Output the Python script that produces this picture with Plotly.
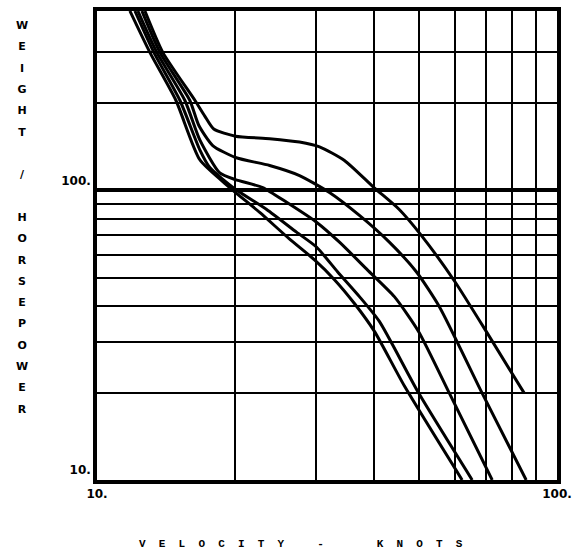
import plotly.graph_objects as go

# ---- data (velocity in knots, weight/horsepower) ----
c1_v = [12.71, 13.9, 16.32, 17.15, 17.94, 20.0, 23.73, 27.56, 30.46, 34.51, 40.0, 45.4, 50.7, 60.0, 71.2, 84.8]
c1_w = [417, 300, 205, 180.7, 163, 154, 151, 147, 141.5, 127, 102.4, 86, 70, 48.4, 31.4, 20]

c2_v = [12.52, 13.7, 15.91, 16.64, 17.85, 20.0, 23.73, 27.56, 32.02, 37.2, 43.2, 49.45, 55.5, 68.7, 85.7]
c2_w = [417, 300, 205, 168, 143, 130, 122, 112.6, 98.4, 82, 66.3, 52.4, 39.7, 20, 10]

c3_v = [12.27, 13.49, 15.52, 16.73, 18.49, 20.0, 22.92, 25.84, 30.0, 33.66, 38.71, 44.3, 50.0, 58.3, 72.3]
c3_w = [417, 300, 205, 149.5, 115, 109, 102.4, 91, 77.7, 66.3, 53.2, 43, 32.6, 20, 10]

c4_v = [12.09, 13.29, 15.14, 16.73, 17.59, 20.0, 23.38, 27.15, 30.0, 33.33, 37.2, 41.1, 50.0, 65.4]
c4_w = [417, 300, 205, 138.2, 120, 101, 86, 71.8, 63.8, 52.4, 43, 35.3, 20, 10]

c5_v = [11.79, 13.03, 14.84, 16.73, 19.43, 22.58, 26.23, 29.71, 32.83, 36.28, 40.1, 46.6, 62.2]
c5_w = [417, 300, 205, 127.7, 102.4, 84, 67.9, 57.6, 49.2, 40.7, 32.6, 21.1, 10]

x_major = [10, 100]
x_major_text = ["10.", "100."]
x_minor = [20, 30, 40, 50, 60, 70, 80, 90]
y_major = [10, 100]
y_major_text = ["10.", "100."]
y_minor = [20, 30, 40, 50, 60, 70, 80, 90, 200, 300]

x_title = "VELOCITY - KNOTS"
y_title_words = ["WEIGHT", "/", "HORSEPOWER"]

fig = go.Figure()
for v, w in [(c1_v, c1_w), (c2_v, c2_w), (c3_v, c3_w), (c4_v, c4_w), (c5_v, c5_w)]:
    fig.add_trace(go.Scatter(x=v, y=w, mode="lines", line=dict(color="black", width=3, shape="spline", smoothing=0.6),
                             showlegend=False, hoverinfo="skip"))

tick_font = dict(family="DejaVu Sans", size=12, color="black")

fig.update_xaxes(type="log", range=[1, 2], tickvals=x_major, ticktext=[f"<b>{t}</b>" for t in x_major_text],
                 showgrid=True, gridcolor="black", gridwidth=3,
                 minor=dict(tickvals=x_minor, showgrid=True, gridcolor="black", gridwidth=2.2, ticks=""),
                 showline=True, linecolor="black", linewidth=3.5, mirror=True, ticks="", zeroline=False,
                 tickfont=tick_font)
fig.update_yaxes(type="log", range=[1, 2.62], tickvals=y_major, ticktext=[f"<b>{t}</b>" for t in y_major_text],
                 showgrid=True, gridcolor="black", gridwidth=3.5,
                 minor=dict(tickvals=y_minor, showgrid=True, gridcolor="black", gridwidth=2.2, ticks=""),
                 showline=True, linecolor="black", linewidth=3.5, mirror=True, ticks="", zeroline=False,
                 tickfont=tick_font, ticklabelshift=-10)

nb = "\u00a0"
xt = (nb * 5).join([(nb * 2).join("VELOCITY"), "-"])
xt = xt + nb * 8 + (nb * 2).join("KNOTS")

lines = []
for i, wd in enumerate(y_title_words):
    if i > 0:
        lines.append(nb)
    lines.extend(list(wd))
yt = "<br>".join(f"<span style='font-size:11px'><b>{ch}</b></span>" for ch in lines)

fig.update_layout(
    width=579, height=558,
    margin=dict(l=97, r=21, t=7, b=78),
    paper_bgcolor="white", plot_bgcolor="white",
    annotations=[
        dict(text=f"<b>{xt}</b>", xref="paper", yref="paper", x=0.4436, y=-0.137,
             xanchor="center", yanchor="middle", showarrow=False,
             font=dict(family="Liberation Mono", size=11, color="black")),
        dict(text=yt, xref="paper", yref="paper", x=-0.163, y=0.56,
             xanchor="center", yanchor="middle", showarrow=False,
             font=dict(family="DejaVu Sans", size=16.4, color="black")),
    ],
)

fig.write_html("out.html")
